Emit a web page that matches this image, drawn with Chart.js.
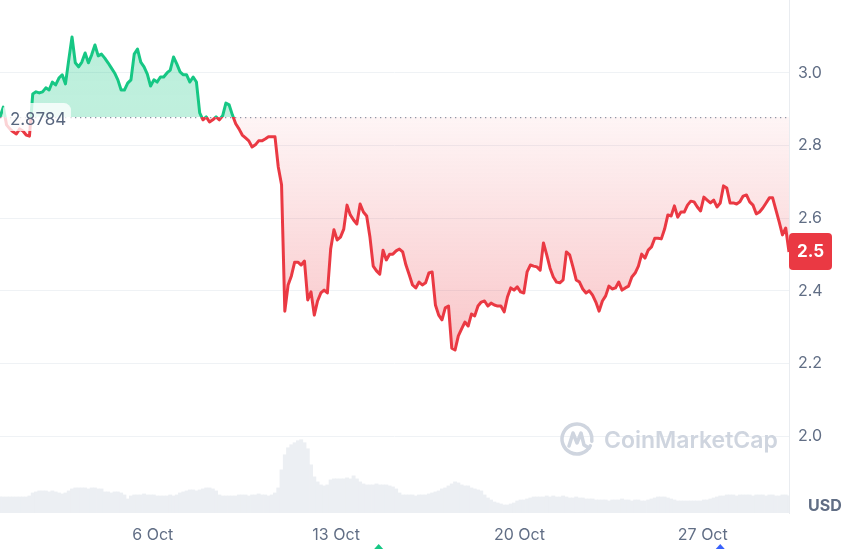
<!DOCTYPE html>
<html>
<head>
<meta charset="utf-8">
<script src="https://cdn.jsdelivr.net/npm/chart.js@4.4.1/dist/chart.umd.min.js"></script>
<style>
  html, body { margin: 0; padding: 0; background: #ffffff; }
  canvas { display: block; }
</style>
</head>
<body>
<canvas id="chart" width="850" height="549"></canvas>
<script>
/* ===================================
   DATA  (1 month, one point every 3 hours, first point 30 Sep 04:00)
   =================================== */

const STEP_HOURS = 3;
const OPEN_PRICE = 2.8784;

const prices = [
  2.879, 2.906, 2.857, 2.846, 2.838, 2.832, 2.846, 2.840, 2.829, 2.826,
  2.942, 2.948, 2.945, 2.948, 2.959, 2.953, 2.975, 2.967, 2.986, 2.995,
  2.970, 3.036, 3.099, 3.028, 3.017, 3.030, 3.055, 3.028, 3.050, 3.077,
  3.047, 3.052, 3.041, 3.028, 3.014, 3.000, 2.981, 2.953, 2.953, 2.972,
  2.981, 3.052, 3.066, 3.030, 3.017, 2.997, 2.964, 2.981, 2.975, 2.989,
  2.989, 3.000, 3.008, 3.044, 3.025, 3.003, 2.995, 2.995, 2.975, 2.989,
  2.975, 2.890, 2.871, 2.879, 2.865, 2.871, 2.879, 2.871, 2.882, 2.917,
  2.912, 2.884, 2.860, 2.846, 2.829, 2.821, 2.813, 2.796, 2.802, 2.813,
  2.813, 2.818, 2.824, 2.824, 2.824, 2.741, 2.692, 2.344, 2.416, 2.441,
  2.479, 2.479, 2.471, 2.482, 2.375, 2.397, 2.333, 2.372, 2.394, 2.402,
  2.394, 2.515, 2.568, 2.540, 2.548, 2.570, 2.636, 2.609, 2.595, 2.584,
  2.639, 2.617, 2.606, 2.548, 2.468, 2.455, 2.446, 2.512, 2.485, 2.501,
  2.501, 2.510, 2.515, 2.507, 2.471, 2.444, 2.416, 2.408, 2.424, 2.416,
  2.422, 2.449, 2.452, 2.361, 2.333, 2.320, 2.353, 2.358, 2.242, 2.237,
  2.276, 2.295, 2.314, 2.303, 2.336, 2.331, 2.358, 2.369, 2.372, 2.358,
  2.366, 2.361, 2.358, 2.358, 2.342, 2.383, 2.408, 2.402, 2.411, 2.397,
  2.394, 2.452, 2.471, 2.468, 2.466, 2.457, 2.532, 2.499, 2.463, 2.438,
  2.424, 2.422, 2.430, 2.507, 2.499, 2.466, 2.430, 2.424, 2.405, 2.394,
  2.400, 2.388, 2.369, 2.344, 2.372, 2.386, 2.413, 2.405, 2.408, 2.424,
  2.402, 2.408, 2.413, 2.438, 2.449, 2.468, 2.501, 2.490, 2.512, 2.521,
  2.545, 2.545, 2.543, 2.570, 2.609, 2.606, 2.634, 2.603, 2.617, 2.617,
  2.636, 2.647, 2.645, 2.631, 2.620, 2.658, 2.650, 2.642, 2.650, 2.631,
  2.642, 2.689, 2.683, 2.642, 2.642, 2.639, 2.645, 2.661, 2.664, 2.645,
  2.636, 2.612, 2.617, 2.628, 2.642, 2.656, 2.656, 2.623, 2.590, 2.554,
  2.573, 2.507,
];

// traded volume, $M per 3h bucket
const volumes = [
  16, 16, 16, 16, 16, 16, 16, 16, 16, 17,
  20, 21, 22, 22, 22, 21, 22, 21, 20, 19,
  20, 22, 24, 25, 25, 25, 25, 24, 25, 25,
  24, 24, 21, 21, 20, 21, 21, 20, 18, 14,
  17, 18, 18, 18, 19, 18, 18, 18, 17, 17,
  17, 17, 18, 17, 18, 20, 21, 22, 23, 23,
  22, 23, 24, 25, 25, 24, 22, 18, 17, 17,
  17, 17, 17, 18, 18, 18, 17, 18, 18, 19,
  18, 18, 17, 18, 20, 25, 43, 58, 65, 68,
  70, 72, 73, 70, 64, 48, 36, 31, 28, 27,
  28, 33, 34, 34, 34, 34, 35, 34, 37, 34,
  31, 29, 28, 28, 28, 29, 28, 28, 28, 27,
  26, 24, 20, 18, 18, 18, 18, 17, 18, 18,
  18, 19, 20, 21, 22, 24, 25, 27, 29, 31,
  30, 28, 27, 27, 25, 24, 23, 22, 18, 15,
  13, 11, 10, 9, 8, 8, 9, 10, 12, 13,
  13, 14, 15, 16, 16, 16, 16, 17, 16, 17,
  16, 16, 17, 16, 15, 15, 16, 15, 15, 14,
  14, 14, 13, 13, 13, 13, 12, 13, 13, 13,
  14, 13, 13, 12, 13, 13, 12, 12, 13, 14,
  15, 16, 16, 16, 15, 14, 13, 12, 12, 12,
  12, 12, 12, 12, 12, 13, 13, 14, 15, 16,
  17, 17, 18, 18, 18, 17, 18, 18, 18, 18,
  17, 18, 18, 18, 17, 18, 18, 17, 17, 18,
  18, 17,
];

const tickHours = [140, 308, 476, 644];
const tickLabels = ['6 Oct', '13 Oct', '20 Oct', '27 Oct'];
const priceTicks = [2.0, 2.2, 2.4, 2.6, 2.8, 3.0];
const eventHours = [347, 660];
const eventColors = ['#16c784', '#3861fb'];

/* ===================================
   STYLE
   =================================== */

const CMC = {
  green: '#16c784',
  red: '#ea3943',
  text: '#616e85',
  grid: '#eff2f5',
  border: '#e9ecf0',
  volume: '#eceff3',
  watermark: '#cfd5df',
};

Chart.defaults.font.family = 'Inter, "Noto Sans", sans-serif';
Chart.defaults.font.size = 16;
Chart.defaults.color = CMC.text;

const lastHour = (prices.length - 1) * STEP_HOURS;
const pricePoints = prices.map((p, i) => ({ x: i * STEP_HOURS, y: p }));
const volumePoints = volumes.map((v, i) => ({ x: i * STEP_HOURS, y: v }));

function baselineFraction(chart) {
  const area = chart.chartArea;
  const y0 = chart.scales.y.getPixelForValue(OPEN_PRICE);
  return Math.min(1, Math.max(0, (y0 - area.top) / (area.bottom - area.top)));
}

function lineColor(ctx) {
  const chart = ctx.chart;
  const area = chart.chartArea;
  if (!area || !chart.scales.y) return CMC.red;
  const f = baselineFraction(chart);
  const g = chart.ctx.createLinearGradient(0, area.top, 0, area.bottom);
  g.addColorStop(0, CMC.green);
  g.addColorStop(f, CMC.green);
  g.addColorStop(f, CMC.red);
  g.addColorStop(1, CMC.red);
  return g;
}

function fillColor(ctx) {
  const chart = ctx.chart;
  const area = chart.chartArea;
  if (!area || !chart.scales.y) return 'rgba(234,57,67,0.1)';
  const f = baselineFraction(chart);
  const low = chart.scales.y.getPixelForValue(2.2);
  const f2 = Math.min(1, (low - area.top) / (area.bottom - area.top));
  const g = chart.ctx.createLinearGradient(0, area.top, 0, area.bottom);
  g.addColorStop(0, 'rgba(22,199,132,0.30)');
  g.addColorStop(f, 'rgba(22,199,132,0.27)');
  g.addColorStop(f, 'rgba(234,57,67,0.05)');
  g.addColorStop(f2, 'rgba(234,57,67,0.30)');
  g.addColorStop(1, 'rgba(234,57,67,0.30)');
  return g;
}

function roundRect(ctx, x, y, w, h, r) {
  ctx.beginPath();
  ctx.moveTo(x + r, y);
  ctx.arcTo(x + w, y, x + w, y + h, r);
  ctx.arcTo(x + w, y + h, x, y + h, r);
  ctx.arcTo(x, y + h, x, y, r);
  ctx.arcTo(x, y, x + w, y, r);
  ctx.closePath();
}

// keep the plot flush with the canvas edges (no label overhang padding)
function noOverhang(scale) {
  scale.paddingTop = 0;
  scale.paddingBottom = 0;
  scale.paddingLeft = 0;
  scale.paddingRight = 0;
}

/* ===================================
   PLUGIN: watermark + overlays
   =================================== */

const cmcOverlay = {
  id: 'cmcOverlay',
  beforeDatasetsDraw(chart) {
    const { ctx, chartArea: a } = chart;
    // CoinMarketCap watermark
    ctx.save();
    const cx = a.right - 212, cy = a.bottom - 74;
    ctx.strokeStyle = CMC.watermark;
    ctx.lineWidth = 3.5;
    ctx.lineCap = 'round';
    ctx.lineJoin = 'round';
    ctx.beginPath();
    ctx.arc(cx, cy, 15, 0.15 * Math.PI, 2.05 * Math.PI);
    ctx.stroke();
    ctx.beginPath();
    ctx.moveTo(cx - 8, cy + 7);
    ctx.lineTo(cx - 4, cy - 6);
    ctx.lineTo(cx, cy + 4);
    ctx.lineTo(cx + 4, cy - 6);
    ctx.lineTo(cx + 7, cy + 6);
    ctx.lineTo(cx + 12, cy + 9);
    ctx.stroke();
    ctx.fillStyle = CMC.watermark;
    ctx.font = '600 23px Inter, "Noto Sans", sans-serif';
    ctx.textBaseline = 'middle';
    ctx.textAlign = 'left';
    ctx.fillText('CoinMarketCap', cx + 27, cy + 2);
    ctx.restore();
  },
  afterDatasetsDraw(chart) {
    const { ctx, chartArea: a, scales } = chart;
    const y0 = scales.y.getPixelForValue(OPEN_PRICE);
    ctx.save();

    // dotted open-price line
    ctx.strokeStyle = '#8f96a6';
    ctx.lineWidth = 1.3;
    ctx.setLineDash([1.3, 3.7]);
    ctx.beginPath();
    ctx.moveTo(a.left, y0 + 0.5);
    ctx.lineTo(a.right, y0 + 0.5);
    ctx.stroke();
    ctx.setLineDash([]);

    // open-price label
    ctx.fillStyle = 'rgba(255,255,255,0.78)';
    roundRect(ctx, a.left + 3, y0 - 14, 68, 28, 7);
    ctx.fill();
    ctx.fillStyle = '#58667e';
    ctx.font = '17px Inter, "Noto Sans", sans-serif';
    ctx.textAlign = 'left';
    ctx.textBaseline = 'middle';
    ctx.fillText(OPEN_PRICE.toFixed(4), a.left + 10, y0 + 3);

    ctx.restore();
  },
  afterDraw(chart) {
    const { ctx, chartArea: a, scales } = chart;
    ctx.save();

    // last price badge
    const last = prices[prices.length - 1];
    const yl = scales.y.getPixelForValue(last);
    ctx.fillStyle = CMC.red;
    roundRect(ctx, a.right, yl - 19, 43, 37, 4);
    ctx.fill();
    ctx.fillStyle = '#ffffff';
    ctx.font = 'bold 17px Inter, "Noto Sans", sans-serif';
    ctx.textAlign = 'center';
    ctx.textBaseline = 'middle';
    ctx.fillText(last.toFixed(1), a.right + 21.5, yl);

    // currency unit
    ctx.fillStyle = CMC.text;
    ctx.font = 'bold 16px Inter, "Noto Sans", sans-serif';
    ctx.textAlign = 'left';
    ctx.fillText('USD', a.right + 19, a.bottom - 7);

    // event markers under the time axis
    eventHours.forEach((h, i) => {
      const x = scales.x.getPixelForValue(h);
      const yb = chart.height;
      ctx.fillStyle = eventColors[i];
      ctx.beginPath();
      ctx.moveTo(x - 4.5, yb);
      ctx.lineTo(x, yb - 5);
      ctx.lineTo(x + 4.5, yb);
      ctx.closePath();
      ctx.fill();
    });

    ctx.restore();
  },
};

/* ===================================
   CHART
   =================================== */

new Chart(document.getElementById('chart').getContext('2d'), {
  type: 'line',
  data: {
    datasets: [
      {
        label: 'Price',
        data: pricePoints,
        yAxisID: 'y',
        borderColor: lineColor,
        backgroundColor: fillColor,
        borderWidth: 3,
        borderJoinStyle: 'round',
        pointRadius: 0,
        tension: 0,
        fill: { value: OPEN_PRICE },
        order: 1,
      },
      {
        type: 'bar',
        label: 'Volume',
        data: volumePoints,
        yAxisID: 'yv',
        backgroundColor: CMC.volume,
        borderWidth: 0,
        barPercentage: 1,
        categoryPercentage: 1,
        order: 2,
      },
    ],
  },
  options: {
    responsive: false,
    animation: false,
    layout: { padding: 0 },
    plugins: { legend: { display: false }, tooltip: { enabled: false } },
    scales: {
      x: {
        type: 'linear',
        min: 0,
        max: lastHour,
        offset: false,
        grid: { display: false, drawTicks: false },
        border: { display: false },
        afterBuildTicks(scale) { scale.ticks = tickHours.map(v => ({ value: v })); },
        afterFit(scale) { scale.height = 36; noOverhang(scale); },
        ticks: {
          autoSkip: false,
          maxRotation: 0,
          padding: 13,
          color: CMC.text,
          font: { size: 16 },
          callback: (v, i) => tickLabels[i],
        },
      },
      y: {
        position: 'right',
        min: 1.788,
        max: 3.201,
        grid: { color: CMC.grid, lineWidth: 1, drawTicks: false },
        border: { display: true, color: CMC.border },
        afterBuildTicks(scale) { scale.ticks = priceTicks.map(v => ({ value: v })); },
        afterFit(scale) { scale.width = 61; noOverhang(scale); },
        ticks: {
          padding: 9,
          color: CMC.text,
          font: { size: 16 },
          callback: v => v.toFixed(1),
        },
      },
      yv: {
        display: false,
        min: 0,
        max: Math.max(...volumes) * 7,
        afterFit: noOverhang,
      },
    },
  },
  plugins: [cmcOverlay],
});
</script>
</body>
</html>
